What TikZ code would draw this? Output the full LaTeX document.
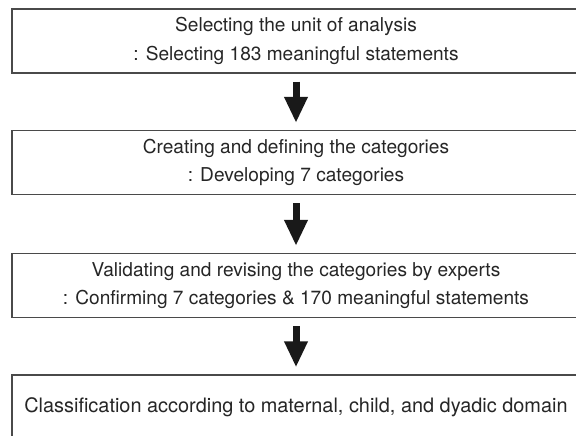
\documentclass[tikz,border=0pt]{standalone}
\usepackage{fontspec}
\setmainfont{TeX Gyre Heros}
\usetikzlibrary{arrows.meta}
\definecolor{linegray}{HTML}{4A4A4A}
\definecolor{textgray}{HTML}{262626}
\begin{document}
\begin{tikzpicture}[x=1pt,y=-1pt,
  stagebox/.style={draw=linegray, line width=1.3pt, minimum width=568pt, minimum height=64pt,
    inner sep=0pt, align=center, text=textgray,
    font=\fontsize{19.1}{28.5}\selectfont},
  flowarrow/.style={draw=black!90, line width=7pt,
    -{Triangle[width=22pt,length=26pt]}, shorten <=8pt, shorten >=7pt}]
\useasboundingbox (0,0) rectangle (576,436);
\fill[white] (0,0) rectangle (576,436);
\node[stagebox] (b1) at (296,41) {Selecting the unit of analysis\\: Selecting 183 meaningful statements};
\node[stagebox] (b2) at (296,162.5) {Creating and defining the categories\\: Developing 7 categories};
\node[stagebox] (b3) at (296,285.5) {Validating and revising the categories by experts\\: Confirming 7 categories \& 170 meaningful statements};
\node[stagebox, font=\fontsize{19.9}{24}\selectfont] (b4) at (296,407) {Classification according to maternal, child, and dyadic domain};
\draw[flowarrow] (b1.south) -- (b2.north);
\draw[flowarrow] (b2.south) -- (b3.north);
\draw[flowarrow] (b3.south) -- (b4.north);
\end{tikzpicture}
\end{document}
